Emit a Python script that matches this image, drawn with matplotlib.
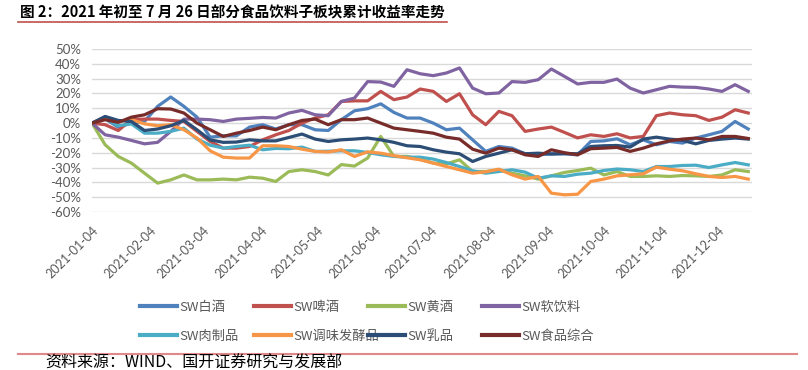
import matplotlib
matplotlib.use("Agg")
import matplotlib.pyplot as plt
import matplotlib.dates as mdates
from matplotlib.lines import Line2D
import pandas as pd

plt.rcParams['font.family'] = ['Noto Sans CJK SC', 'DejaVu Sans']

# weekly observation dates (x categories)
dates = pd.date_range('2021-01-04', periods=51, freq='7D')

# cumulative returns, %
baijiu = [0, 2.9, -2.7, 0, 1.1, 11.3, 17.6, 11.3, 4, -9.5, -8.6, -8.6, -2.7, -1.1, -4, -1.1, -1.1, -4.5, -5,
          2.3, 8.3, 9.7, 13, 7.2, 3.4, 3.4, 0, -4.5, -3.4, -11.3, -19.1, -15.8, -16.9, -20.7, -21.4, -20.7, -20.8,
          -21.4, -12.4, -12, -10.6, -14.6, -11.3, -14.6, -12.4, -13.5, -10.1, -7.9, -5.6, 1.1, -4]
pijiu = [0, -1.1, -5, 2.3, 2.7, 2.7, 1.8, 1.1, -5.6, -12.4, -16.9, -16.9, -15.8, -11.3, -7.9, -5, 0, 3.4, 5.6,
         14.6, 15, 15, 21.4, 15.8, 17.6, 23, 21.4, 14.6, 19.8, 5.6, -1.1, 7.9, 5, -5.6, -4, -2.7, -6.3,
         -10, -7.9, -9, -7.2, -10, -9, 5, 6.8, 5.6, 5, 1.8, 4, 9, 6.8]
huangjiu = [0, -14.6, -22.5, -27, -33.8, -40.5, -38.3, -35, -38.3, -38.3, -37.8, -38.3, -36.5, -37.2, -39.4, -32.7, -31.5, -32.7, -35,
            -28, -29, -23.6, -9, -22.5, -22.5, -24.3, -27, -27.5, -24.8, -32.7, -32.7, -31.5, -33.8, -35.6, -37.8, -35.6, -33.3,
            -32, -30.4, -35, -32.7, -36, -36, -35.6, -36, -35.4, -35.6, -36, -35, -31.5, -32.7]
ruanyinliao = [0, -7.9, -9.5, -11.7, -14, -13, -5.6, 2.7, 2.7, 2.3, 1.1, 2.7, 3.2, 3.8, 3.4, 6.8, 8.6, 5.6, 5,
               14.6, 16.9, 28, 27.7, 24.8, 36, 33.3, 32, 33.8, 37.2, 23.6, 19.8, 20.3, 28, 27.5, 29.3, 36.5, 31.5,
               26.4, 27.5, 27.5, 29.7, 23.6, 20.3, 22.5, 24.8, 24.3, 24.1, 23, 21.4, 25.9, 21.4]
rouzhipin = [0, 3.4, -1.8, -0.5, -6.8, -6.8, -5.6, -3.4, -10.8, -14.9, -16.9, -15.8, -14.9, -18, -17.1, -17.3, -16.2, -19.1, -19,
             -18.7, -18.7, -19.8, -21.4, -22.5, -23, -23, -24.3, -26.6, -29.3, -32.2, -33.8, -32.7, -31.5, -33.1, -37.2, -35.6, -36,
             -34.5, -33.8, -32, -31, -31.5, -32.7, -29.3, -29.3, -28.6, -28.4, -30, -28.2, -26.6, -28.2]
tiaowei = [0, 4, 1.1, 2.3, -0.5, -1.8, -1.1, -4.5, -10.1, -18.7, -23, -23.6, -23.6, -15.3, -15.3, -15.8, -17.6, -19.1, -19.5,
           -18, -22.5, -19.4, -20.3, -22, -23.4, -24.8, -27, -29.3, -31.5, -33.8, -32.9, -31.1, -34.9, -37.8, -36, -47.3, -48.4,
           -48, -39.4, -37.8, -35.6, -34.9, -34.2, -29.7, -31.1, -32.2, -34.2, -36, -36.7, -36, -37.8]
rupin = [0, 4.5, 1.8, 1.1, -5, -4, -1.8, 1.8, -4.5, -11.3, -13, -12.8, -11.3, -12, -12, -9.7, -7.4, -10.8, -12.4,
         -11.3, -10.8, -10.1, -11.3, -13, -15.3, -15.8, -18, -19.6, -20.7, -25.9, -22.5, -20.3, -18, -20.7, -20.3, -20.9, -20.5,
         -20.7, -15.8, -15.3, -15.1, -16.2, -10.8, -9.5, -10.8, -11.7, -14, -11.7, -10.8, -10.1, -10.8]
zonghe = [0, 2.3, 0.5, 4, 5.6, 9.7, 9.5, 6.8, 0, -4.5, -9, -6.8, -5, -2.7, -4.5, -1.1, 1.8, 2.7, -1.1,
          2.3, 2.3, 3.4, 0, -3.4, -4.5, -5.6, -6.8, -9.5, -10.8, -17.6, -20.3, -16.9, -18, -21.4, -22.5, -18, -20,
          -21.4, -17.3, -16.9, -16.4, -19.1, -16.9, -14, -12, -10.8, -10.1, -11.3, -9, -9, -10.4]

series_names = ['SW白酒', 'SW啤酒', 'SW黄酒', 'SW软饮料', 'SW肉制品', 'SW调味发酵品', 'SW乳品', 'SW食品综合']
series_values = [baijiu, pijiu, huangjiu, ruanyinliao, rouzhipin, tiaowei, rupin, zonghe]
colors = ['#4F81BD', '#C0504D', '#9BBB59', '#8064A2', '#4BACC6', '#F79646', '#2C4D75', '#772C2A']

yticks = [50, 40, 30, 20, 10, 0, -10, -20, -30, -40, -50, -60]
xtick_labels = ['2021-01-04', '2021-02-04', '2021-03-04', '2021-04-04', '2021-05-04', '2021-06-04',
                '2021-07-04', '2021-08-04', '2021-09-04', '2021-10-04', '2021-11-04', '2021-12-04']

title = '图 2：2021 年初至 7 月 26 日部分食品饮料子板块累计收益率走势'
source = '资料来源：WIND、国开证券研究与发展部'

W, H = 808, 370
fig = plt.figure(figsize=(W / 100, H / 100), dpi=100)
ax = fig.add_axes([92 / W, 1 - 212 / H, (752 - 92) / W, (212 - 49) / H])

for name, vals, c in zip(series_names, series_values, colors):
    ax.plot(dates, vals, color=c, lw=2.3, label=name, solid_joinstyle='round')

ax.set_ylim(-60, 50)
ax.set_yticks(yticks)
ax.set_yticklabels([f'{v}%' for v in yticks], fontsize=9.5, color='#595959', family=['Lato', 'DejaVu Sans'])
ax.set_xlim(pd.Timestamp('2021-01-04'), pd.Timestamp('2021-01-04') + pd.Timedelta(days=352))
ax.set_xticks(pd.to_datetime(xtick_labels))
ax.xaxis.set_major_formatter(mdates.DateFormatter('%Y-%m-%d'))
for lab in ax.get_xticklabels():
    lab.set_rotation(45)
    lab.set_ha('right')
    lab.set_va('top')
    lab.set_rotation_mode('anchor')
    lab.set_fontsize(9)
    lab.set_color('#595959')
    lab.set_family(['Lato', 'DejaVu Sans'])
ax.tick_params(axis='y', length=0, pad=8)
ax.tick_params(axis='x', length=0, pad=9)
ax.grid(axis='y', color='#D9D9D9', lw=1)
ax.set_axisbelow(True)
for s in ax.spines.values():
    s.set_visible(False)

# legend: four fixed columns, two rows (row-wise order as in the reference)
handles = [Line2D([], [], color=c, lw=3) for c in colors]
col_x = [140, 254, 368, 482]
for i, x in enumerate(col_x):
    idx = [i, i + 4]
    lg = fig.legend([handles[j] for j in idx], [series_names[j] for j in idx],
                    loc='upper left', bbox_to_anchor=(x / W, 1 - 301 / H),
                    frameon=False, fontsize=9.5, handlelength=2.8, handletextpad=0.15,
                    borderpad=0, borderaxespad=0, labelspacing=1.2)
    for t in lg.get_texts():
        t.set_color('#595959')

# title and source
fig.text(20 / W, 1 - 12 / H, title, fontsize=10.5, fontweight='bold', va='center', ha='left')
fig.add_artist(Line2D([18 / W, 447 / W], [1 - 22 / H, 1 - 22 / H], color='#C0504D', lw=1.2))
fig.add_artist(Line2D([18 / W, 797 / W], [1 - 353.5 / H, 1 - 353.5 / H], color='#E0888A', lw=1.5))
fig.text(45 / W, 1 - 363 / H, source, fontsize=11.5, va='center', ha='left')

fig.savefig('out.png', dpi=100)
